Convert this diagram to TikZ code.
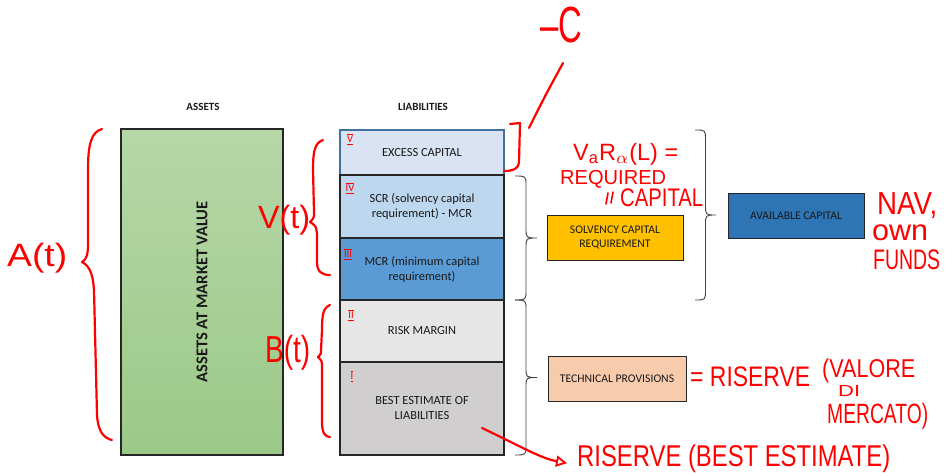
\documentclass[tikz,border=0pt]{standalone}
\usepackage{fontspec}
\setmainfont{Carlito}
\newfontfamily\hand{Liberation Sans}
\usepackage{graphicx}
\usetikzlibrary{arrows.meta}
\definecolor{exfill}{HTML}{DAE3F3}
\definecolor{exdraw}{HTML}{41719C}
\definecolor{scrfill}{HTML}{BDD7EE}
\definecolor{mcrfill}{HTML}{5B9BD5}
\definecolor{rmfill}{HTML}{E7E6E6}
\definecolor{befill}{HTML}{D0CECE}
\definecolor{astop}{HTML}{B6D7A8}
\definecolor{asbot}{HTML}{9CC987}
\definecolor{gold}{HTML}{FFC000}
\definecolor{avail}{HTML}{2E75B6}
\definecolor{techfill}{HTML}{F8CBAD}
\definecolor{ink}{HTML}{FF0000}
\newcommand\handfit[3]{\resizebox*{#1pt}{#2pt}{\hand #3}}
\tikzset{
  lbox/.style={draw=black!85, line width=1.2pt, minimum width=164pt, inner sep=2pt,
    align=center, text=black!90, font=\fontsize{12.4}{15}\selectfont},
  sbox/.style={draw=black!85, line width=1pt, minimum width=136pt, minimum height=45pt,
    inner sep=2pt, align=center, text=black!90, font=\fontsize{11.7}{14.5}\selectfont},
  heading/.style={text=black!90, font=\bfseries\fontsize{11}{13}\selectfont},
  redink/.style={draw=ink, line width=2.2pt, line cap=round, line join=round},
  hnote/.style={inner sep=0pt, anchor=north west, text=ink},
  numeral/.style={inner sep=0pt, text=ink, font=\fontsize{10.5}{10.5}\selectfont},
  blackbrace/.style={draw=black!75, line width=0.9pt}
}
\begin{document}
\begin{tikzpicture}[x=1pt,y=-1pt]
\useasboundingbox (0,0) rectangle (945,476);

% headings
\node[heading] (hass) at (203,107) {ASSETS};
\node[heading] (hlia) at (423,107) {LIABILITIES};

% assets
\node[draw=black!85, line width=1.2pt, top color=astop, bottom color=asbot,
  minimum width=162pt, minimum height=326pt, inner sep=0pt] (assets) at (202,292) {};
\node[rotate=90, text=black!90, font=\bfseries\fontsize{16.5}{20}\selectfont] (assetstxt) at (assets.center) {ASSETS AT MARKET VALUE};

% liabilities
\node[lbox, draw=exdraw, fill=exfill, minimum height=45pt] (excess) at (422,152.5) {EXCESS CAPITAL};
\node[lbox, fill=scrfill, minimum height=63pt] (scr) at (422,206.5) {SCR (solvency capital\\requirement) - MCR};
\node[lbox, fill=mcrfill, minimum height=62pt] (mcr) at (422,269) {MCR (minimum capital\\requirement)};
\node[lbox, fill=rmfill, minimum height=62pt] (rm) at (422,331) {RISK MARGIN};
\node[lbox, fill=befill, minimum height=93pt] (be) at (422,408.5) {BEST ESTIMATE OF\\LIABILITIES};

% side boxes
\node[sbox, fill=gold] (scrbox) at (615,237.5) {SOLVENCY CAPITAL\\REQUIREMENT};
\node[sbox, fill=avail] (availbox) at (796,216) {AVAILABLE CAPITAL};
\node[sbox, fill=techfill, minimum width=138pt] (techbox) at (617,378.5) {TECHNICAL PROVISIONS};

% black braces
\draw[blackbrace] (515,176) .. controls (526,176) .. (526,186) -- (526,228)
  .. controls (526,238) .. (537,238) .. controls (526,238) .. (526,248) -- (526,290)
  .. controls (526,300) .. (515,300);
\draw[blackbrace] (515,300) .. controls (526,300) .. (526,310) -- (526,367.5)
  .. controls (526,377.5) .. (537,377.5) .. controls (526,377.5) .. (526,387.5) -- (526,445)
  .. controls (526,455) .. (515,455);
\draw[blackbrace] (695,130) .. controls (705.5,130) .. (705.5,140) -- (705.5,205)
  .. controls (705.5,215) .. (716,215) .. controls (705.5,215) .. (705.5,225) -- (705.5,290)
  .. controls (705.5,300) .. (695,300);

% roman numerals
\node[numeral] (n5) at (350,139) {$\overline{\underline{\mathrm{V}}}$};
\node[numeral] (n4) at (350,188) {$\overline{\underline{\mathrm{IV}}}$};
\node[numeral] (n3) at (348,254) {$\overline{\underline{\mathrm{III}}}$};
\node[numeral] (n2) at (351,315) {$\overline{\underline{\mathrm{II}}}$};
\node[numeral] (n1) at (352,376) {$\overline{\underline{\mathrm{I}}}$};

% red braces
\draw[redink] (102,129) .. controls (91,132) and (88,145) .. (88,170) -- (88,245)
  .. controls (88,255) and (86,260) .. (82,262) .. controls (90,266) and (93,275) .. (94,290)
  -- (97,415) .. controls (98,432) and (104,438) .. (112,440);
\draw[redink] (323,140) .. controls (315,143) and (313,150) .. (313,170) -- (314,212)
  .. controls (314,218) .. (310,222) .. controls (316,226) .. (317,234) -- (317,262)
  .. controls (317,272) and (322,275) .. (330,275);
\draw[redink] (330,305) .. controls (323,308) and (322,315) .. (322,330) -- (321,350)
  .. controls (321,354) .. (318,357) .. controls (322,361) .. (322,368) -- (322,422)
  .. controls (322,433) and (325,437) .. (330,437);
\draw[redink] (510,124) -- (520,123) -- (519,162) .. controls (519,168) and (514,171) .. (504,171);
\coordinate (brtop) at (529,128);
\coordinate (slashtop) at (563,63);
\draw[redink] (brtop) .. controls (545,96) .. (slashtop);

% red notes
\node[hnote] (negc) at (540,7) {\handfit{42}{36}{–C}};
\node[hnote] (at) at (7,243) {\handfit{60}{30}{A(t)}};
\node[hnote] (vt) at (258,205) {\handfit{52}{30}{V(t)}};
\node[hnote] (bt) at (265,335) {\handfit{45}{35}{B(t)}};
\node[hnote] (var) at (573,143) {\handfit{105}{22}{V\textsubscript{a}R\textsubscript{$\alpha$}(L) =}};
\node[hnote] (req) at (560,170) {\handfit{106}{18}{REQUIRED}};
\draw[redink, line width=1.6pt] (608,193) -- (606,204);
\draw[redink, line width=1.6pt] (613,192) -- (611,203);
\node[hnote] (cap) at (620,189) {\handfit{83}{18}{CAPITAL}};
\node[hnote] (nav) at (877,192) {\handfit{60}{26}{NAV,}};
\node[hnote] (own) at (872,225) {\handfit{56}{16}{own}};
\node[hnote] (funds) at (873,250) {\handfit{67}{20}{FUNDS}};
\node[hnote] (ris1) at (690,367) {\handfit{120}{20}{= RISERVE}};
\node[hnote] (valore) at (822,359) {\handfit{93}{24}{(VALORE}};
\node[hnote] (di) at (838,385) {\handfit{22}{11}{DI}};
\node[hnote] (merc) at (827,403) {\handfit{101}{26}{MERCATO)}};
\node[hnote] (rbest) at (577,445) {\handfit{313}{28}{RISERVE (BEST ESTIMATE)}};

% arrow from best estimate
\coordinate (bestpt) at (482,428);
\draw[redink, -{Triangle[open, length=11pt, width=11pt, line width=1.8pt]}]
  (bestpt) .. controls (520,446) and (540,458) .. ([shift={(-10,4)}]rbest.west);
\end{tikzpicture}
\end{document}
